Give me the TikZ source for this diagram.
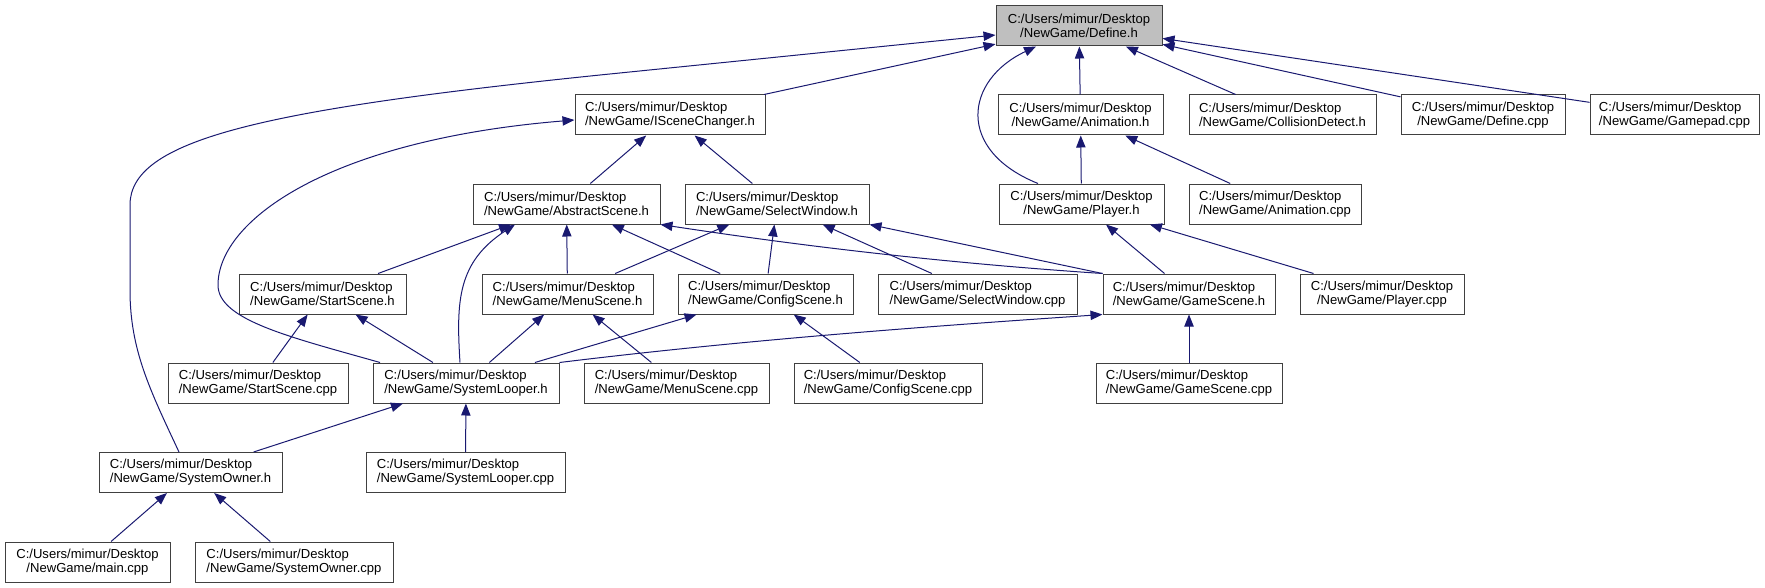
\documentclass[tikz,border=0pt]{standalone}
\usepackage{fontspec}
\setmainfont{Liberation Sans}
\usetikzlibrary{arrows.meta,positioning,calc}
\definecolor{edgeblue}{HTML}{191970}
\definecolor{rootgray}{HTML}{BFBFBF}

\begin{document}
\begin{tikzpicture}[x=0.75pt,y=-0.75pt,
  every node/.style={draw=black!75,line width=0.75pt,fill=white,align=left,minimum height=30pt,inner sep=0pt,font=\fontsize{9.8}{10.5}\selectfont},
  root/.style={fill=rootgray,align=center}, mid/.style={align=center},
  arrow/.style={-{Triangle[length=9pt,width=7pt]},draw=edgeblue,line width=0.75pt}
]
  \useasboundingbox (0,0) rectangle (1765,588);
  \node[root,minimum width=124.5pt] (define) at (1079,26) {C:/Users/mimur/Desktop\\/NewGame/Define.h};
  \node[minimum width=142.5pt] (isc) at (670,115) {C:/Users/mimur/Desktop\\/NewGame/ISceneChanger.h};
  \node[mid,minimum width=123.75pt,right=174pt of isc] (anim) {C:/Users/mimur/Desktop\\/NewGame/Animation.h};
  \node[minimum width=140.25pt,right=18.75pt of anim] (collision) {C:/Users/mimur/Desktop\\/NewGame/CollisionDetect.h};
  \node[mid,minimum width=123pt,right=18pt of collision] (definecpp) {C:/Users/mimur/Desktop\\/NewGame/Define.cpp};
  \node[minimum width=126.75pt,right=18pt of definecpp] (gamepad) {C:/Users/mimur/Desktop\\/NewGame/Gamepad.cpp};
  \node[minimum width=140.25pt] (abstract) at (566.5,204) {C:/Users/mimur/Desktop\\/NewGame/AbstractScene.h};
  \node[minimum width=138pt,right=18pt of abstract] (selwin) {C:/Users/mimur/Desktop\\/NewGame/SelectWindow.h};
  \node[mid,minimum width=123.75pt,right=96.75pt of selwin] (player) {C:/Users/mimur/Desktop\\/NewGame/Player.h};
  \node[minimum width=129pt,right=18pt of player] (animcpp) {C:/Users/mimur/Desktop\\/NewGame/Animation.cpp};
  \node[minimum width=125.25pt] (startscene) at (322.5,294) {C:/Users/mimur/Desktop\\/NewGame/StartScene.h};
  \node[minimum width=128.25pt,right=56.25pt of startscene] (menuscene) {C:/Users/mimur/Desktop\\/NewGame/MenuScene.h};
  \node[minimum width=131.25pt,right=18pt of menuscene] (configscene) {C:/Users/mimur/Desktop\\/NewGame/ConfigScene.h};
  \node[minimum width=149.25pt,right=18pt of configscene] (selwincpp) {C:/Users/mimur/Desktop\\/NewGame/SelectWindow.cpp};
  \node[minimum width=129pt,right=18.75pt of selwincpp] (gamescene) {C:/Users/mimur/Desktop\\/NewGame/GameScene.h};
  \node[mid,minimum width=123pt,right=18pt of gamescene] (playercpp) {C:/Users/mimur/Desktop\\/NewGame/Player.cpp};
  \node[minimum width=135pt] (startcpp) at (258,383) {C:/Users/mimur/Desktop\\/NewGame/StartScene.cpp};
  \node[minimum width=139.5pt,right=18pt of startcpp] (looper) {C:/Users/mimur/Desktop\\/NewGame/SystemLooper.h};
  \node[minimum width=138.75pt,right=18pt of looper] (menucpp) {C:/Users/mimur/Desktop\\/NewGame/MenuScene.cpp};
  \node[minimum width=141pt,right=18pt of menucpp] (configcpp) {C:/Users/mimur/Desktop\\/NewGame/ConfigScene.cpp};
  \node[minimum width=139.5pt,right=84.75pt of configcpp] (gamecpp) {C:/Users/mimur/Desktop\\/NewGame/GameScene.cpp};
  \node[minimum width=137.25pt] (owner) at (190.5,472.5) {C:/Users/mimur/Desktop\\/NewGame/SystemOwner.h};
  \node[minimum width=149.25pt,right=62.25pt of owner] (loopercpp) {C:/Users/mimur/Desktop\\/NewGame/SystemLooper.cpp};
  \node[mid,minimum width=123.75pt] (maincpp) at (87.5,562) {C:/Users/mimur/Desktop\\/NewGame/main.cpp};
  \node[minimum width=148.5pt,right=18pt of maincpp] (ownercpp) {C:/Users/mimur/Desktop\\/NewGame/SystemOwner.cpp};
  \draw[arrow] ($(owner.north)+(-11.5,0)$) .. controls (150,390) and (130,350) .. (130,290) -- (130,205)
    .. controls (130,140) and (260,110) .. (600,75) -- ($(define.west)+(0,9)$);
  \draw[arrow] (isc) -- (define);
  \draw[arrow] ($(player.north)+(-43.5,0)$) .. controls (955,150) and (965,80) .. ($(define.south)+(-43,0)$);
  \draw[arrow] (anim) -- (define);
  \draw[arrow] (collision) -- (define);
  \draw[arrow] (definecpp) -- (define);
  \draw[arrow] (gamepad) -- (define);
  \draw[arrow] ($(looper.north)+(-86,0)$) .. controls (290,337) and (218,320) .. (218,285)
    .. controls (218,220) and (330,140) .. ($(isc.west)+(0,5)$);
  \draw[arrow] (abstract) -- (isc);
  \draw[arrow] (selwin) -- (isc);
  \draw[arrow] (player) -- (anim);
  \draw[arrow] (animcpp) -- (anim);
  \draw[arrow] (startscene) -- (abstract);
  \draw[arrow] ($(looper.north)+(-6,0)$) .. controls (456,300) and (458,262) .. ($(abstract.south)+(-51.5,0)$);
  \draw[arrow] (menuscene) -- (abstract);
  \draw[arrow] (configscene) -- (abstract);
  \draw[arrow] (gamescene.north west) .. controls (900,260) and (750,238) .. (abstract.south east);
  \draw[arrow] (menuscene) -- (selwin);
  \draw[arrow] (configscene) -- (selwin);
  \draw[arrow] (selwincpp) -- (selwin);
  \draw[arrow] (gamescene.north west) -- (selwin.south east);
  \draw[arrow] (gamescene) -- (player);
  \draw[arrow] (playercpp) -- (player);
  \draw[arrow] (startcpp) -- (startscene);
  \draw[arrow] (looper) -- (startscene);
  \draw[arrow] (looper) -- (menuscene);
  \draw[arrow] (menucpp) -- (menuscene);
  \draw[arrow] (looper) -- (configscene);
  \draw[arrow] (configcpp) -- (configscene);
  \draw[arrow] (looper.north east) .. controls (760,338) and (950,325) .. (gamescene.south west);
  \draw[arrow] (gamecpp) -- (gamescene);
  \draw[arrow] (owner) -- (looper);
  \draw[arrow] (loopercpp) -- (looper);
  \draw[arrow] (maincpp) -- (owner);
  \draw[arrow] (ownercpp) -- (owner);
\end{tikzpicture}
\end{document}
